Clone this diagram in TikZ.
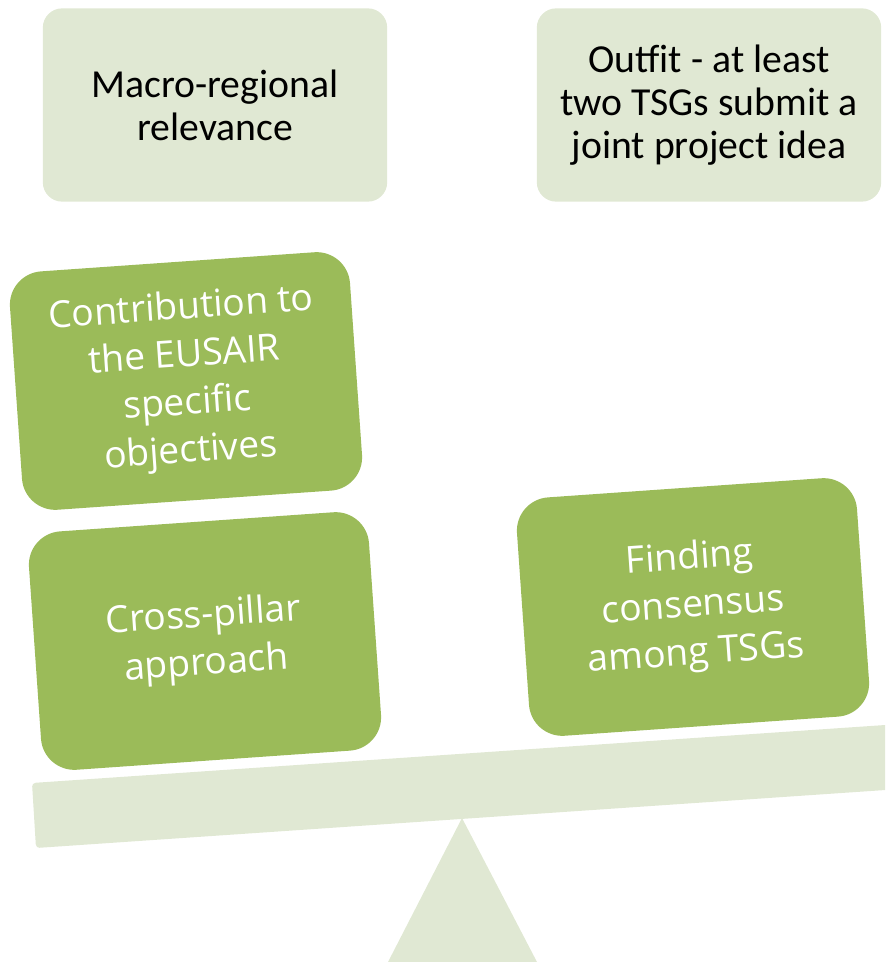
\documentclass[tikz,border=0pt]{standalone}
\usepackage{fontspec}
\setmainfont{Carlito}
\newfontfamily\boxfont{Open Sans}
\usepackage{xcolor}
\definecolor{palegreen}{HTML}{E0E8D3}
\definecolor{olivegreen}{HTML}{9BBB59}
\tikzset{
  lightbox/.style={fill=palegreen, rounded corners=11pt, minimum width=196pt, minimum height=110pt,
    inner sep=0pt, align=center, font=\fontsize{22.6}{24.6}\selectfont},
  darkbox/.style={fill=olivegreen, rounded corners=19pt, minimum width=194pt, minimum height=136pt,
    inner sep=0pt, align=center, text=white, rotate=4, font=\boxfont\fontsize{21.2}{27.2}\selectfont}
}

\begin{document}
\begin{tikzpicture}[x=0.02cm,y=-0.02cm]
\clip (0,0) rectangle (885,962);
\fill [palegreen] (462,818) -- (537,962) -- (388,962) -- cycle;
\fill [palegreen, rounded corners=2pt] (32,783) -- (900,724) -- (900,789) -- (36,848) -- cycle;
\node [lightbox] (macro) at (215,105) {Macro-regional\\relevance};
\node [lightbox] (outfit) at (709,105) {Outfit - at least\\two TSGs submit a\\joint project idea};
\node [darkbox] (contrib) at (186,381) {Contribution to\\the EUSAIR\\specific\\objectives};
\node [darkbox] (cross) at (205,641) {Cross-pillar\\approach};
\node [darkbox] (consensus) at (693,607) {Finding\\consensus\\among TSGs};
\end{tikzpicture}
\end{document}
